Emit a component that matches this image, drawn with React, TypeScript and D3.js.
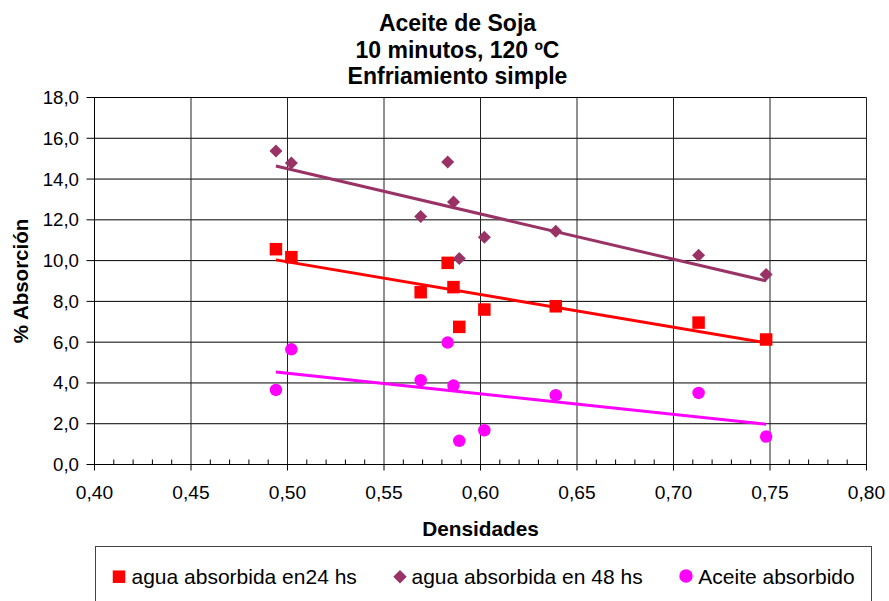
import React from "react";
import * as d3 from "d3";

const densidades = [0.494, 0.502, 0.569, 0.583, 0.586, 0.589, 0.602, 0.639, 0.713, 0.748];
const agua24 = [10.56, 10.17, 8.45, 9.89, 8.7, 6.75, 7.6, 7.76, 6.96, 6.13];
const agua48 = [15.37, 14.79, 12.16, 14.84, 12.88, 10.1, 11.15, 11.44, 10.26, 9.32];
const aceite = [3.66, 5.65, 4.13, 5.98, 3.87, 1.16, 1.68, 3.4, 3.51, 1.37];

const xTicks = [0.4, 0.45, 0.5, 0.55, 0.6, 0.65, 0.7, 0.75, 0.8];
const yTicks = [0, 2, 4, 6, 8, 10, 12, 14, 16, 18];
const titleLines = ["Aceite de Soja", "10 minutos, 120 ºC", "Enfriamiento simple"];
const seriesNames = ["agua absorbida en24 hs", "agua absorbida en 48 hs", "Aceite absorbido"];
const seriesColors = ["#FF0000", "#993366", "#FF00FF"];

const W = 889;
const H = 601;
const FONT = "'Liberation Sans', Arial, sans-serif";

function fit(xs: number[], ys: number[]) {
  const mx = d3.mean(xs) as number;
  const my = d3.mean(ys) as number;
  let num = 0;
  let den = 0;
  xs.forEach((x, i) => {
    num += (x - mx) * (ys[i] - my);
    den += (x - mx) * (x - mx);
  });
  const b = num / den;
  const a = my - b * mx;
  return (x: number) => a + b * x;
}

const fmt = (v: number, d: number) => v.toFixed(d).replace(".", ",");

export default function App() {
  const x = d3.scaleLinear().domain([0.4, 0.8]).range([94.5, 866.5]);
  const y = d3.scaleLinear().domain([0, 18]).range([464.5, 97.5]);
  const minor = d3.range(0.4, 0.8001, 0.01).filter((v) => Math.abs(Math.round(v * 20) - v * 20) > 1e-6);

  const series = [agua24, agua48, aceite];
  const xMin = d3.min(densidades) as number;
  const xMax = d3.max(densidades) as number;

  const marker = (i: number, cx: number, cy: number, s: number, key: string) => {
    const c = seriesColors[i];
    if (i === 0) return <rect key={key} x={cx - s / 2} y={cy - s / 2} width={s} height={s} fill={c} />;
    if (i === 1) {
      const r = s / 2;
      return <path key={key} d={`M${cx},${cy - r}L${cx + r},${cy}L${cx},${cy + r}L${cx - r},${cy}Z`} fill={c} />;
    }
    return <circle key={key} cx={cx} cy={cy} r={s / 2} fill={c} />;
  };

  const sizes = [12.5, 13, 12.5];

  return (
    <svg width={W} height={H} style={{ position: "absolute", left: 0, top: 0, background: "#fff" }} fontFamily={FONT}>
      <rect x={0} y={0} width={W} height={H} fill="#fff" />
      {/* title */}
      {titleLines.map((t, i) => (
        <text key={t} x={457.5} y={31 + i * 26.7} textAnchor="middle" fontWeight="bold" fontSize={23}>
          {t}
        </text>
      ))}
      {/* grid */}
      {yTicks.map((v) => (
        <line key={"gy" + v} x1={x(0.4)} x2={x(0.8)} y1={y(v)} y2={y(v)} stroke="#000" strokeWidth={1} />
      ))}
      {xTicks.map((v) => (
        <line key={"gx" + v} x1={x(v)} x2={x(v)} y1={y(0)} y2={y(18)} stroke="#222" strokeWidth={1} />
      ))}
      {/* axes */}
      <line x1={x(0.4)} x2={x(0.4)} y1={y(0)} y2={y(18)} stroke="#000" />
      <line x1={x(0.4)} x2={x(0.8)} y1={y(0)} y2={y(0)} stroke="#000" />
      {yTicks.map((v) => (
        <g key={"ty" + v}>
          <line x1={x(0.4) - 8} x2={x(0.4)} y1={y(v)} y2={y(v)} stroke="#000" />
          <text x={79} y={y(v) + 6.5} textAnchor="end" fontSize={18.7}>
            {fmt(v, 1)}
          </text>
        </g>
      ))}
      {xTicks.map((v) => (
        <g key={"tx" + v}>
          <line x1={x(v)} x2={x(v)} y1={y(0)} y2={y(0) + 6} stroke="#000" />
          <text x={x(v)} y={498.5} textAnchor="middle" fontSize={19.2}>
            {fmt(v, 2)}
          </text>
        </g>
      ))}
      {minor.map((v) => (
        <line key={"m" + v} x1={x(v)} x2={x(v)} y1={y(0) - 5} y2={y(0)} stroke="#000" />
      ))}
      {/* axis titles */}
      <text x={480.5} y={535.5} textAnchor="middle" fontWeight="bold" fontSize={20.8}>
        Densidades
      </text>
      <text
        transform={`translate(27.5,${(y(0) + y(18)) / 2}) rotate(-90)`}
        textAnchor="middle"
        fontWeight="bold"
        fontSize={20.5}
      >
        % Absorción
      </text>
      {/* markers */}
      {series.map((s, i) => (
        <g key={"s" + i}>
          {densidades.map((d, j) => marker(i, x(d), y(s[j]), sizes[i], `p${i}-${j}`))}
        </g>
      ))}
      {/* trend lines */}
      {series.map((s, i) => {
        const f = fit(densidades, s);
        return (
          <line
            key={"t" + i}
            x1={x(xMin)}
            y1={y(f(xMin))}
            x2={x(xMax)}
            y2={y(f(xMax))}
            stroke={seriesColors[i]}
            strokeWidth={3}
          />
        );
      })}
      {/* legend */}
      <rect x={95.5} y={546.5} width={776} height={70} fill="none" stroke="#444" strokeWidth={1} />
      {marker(0, 119, 576.7, 12.5, "l0")}
      <text x={131.5} y={584} fontSize={21}>
        {seriesNames[0]}
      </text>
      {marker(1, 400, 576.7, 13.4, "l1")}
      <text x={411.5} y={584} fontSize={21}>
        {seriesNames[1]}
      </text>
      {marker(2, 686, 576, 13.4, "l2")}
      <text x={698.3} y={584} fontSize={21}>
        {seriesNames[2]}
      </text>
    </svg>
  );
}
